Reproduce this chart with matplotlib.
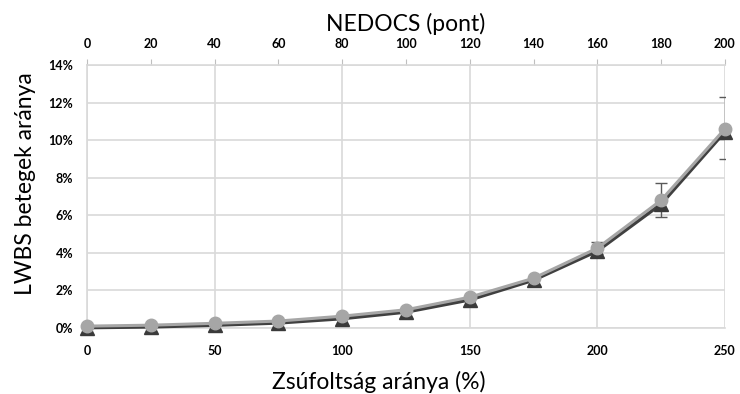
import matplotlib
matplotlib.use("Agg")
import matplotlib.pyplot as plt
from matplotlib.ticker import FuncFormatter, MultipleLocator

# Data
crowding = [0, 25, 50, 75, 100, 125, 150, 175, 200, 225, 250]
lwbs_circle = [0.10, 0.15, 0.25, 0.37, 0.63, 0.97, 1.64, 2.65, 4.25, 6.8, 10.6]
lwbs_triangle = [0.02, 0.06, 0.15, 0.27, 0.50, 0.85, 1.50, 2.55, 4.10, 6.6, 10.45]
err_low = [0, 0, 0, 0, 0, 0, 0, 0, 0.30, 0.9, 1.6]
err_high = [0, 0, 0, 0, 0, 0, 0, 0, 0.35, 0.9, 1.7]
nedocs_ticks = [0, 20, 40, 60, 80, 100, 120, 140, 160, 180, 200]

plt.rcParams['font.family'] = ['Lato', 'DejaVu Sans']

fig = plt.figure(figsize=(7.4, 3.94), dpi=100)
ax = fig.add_axes([0.1176, 0.1675, 0.862, 0.6675])

grid_col = '#d9d9d9'
ax.set_xlim(0, 250)
ax.set_ylim(0, 14)
ax.xaxis.set_major_locator(MultipleLocator(50))
ax.yaxis.set_major_locator(MultipleLocator(2))
ax.yaxis.set_major_formatter(FuncFormatter(lambda v, p: f"{v:.0f}%"))
ax.grid(True, color=grid_col, linewidth=1.2)
ax.set_axisbelow(True)
for s in ['top', 'right']:
    ax.spines[s].set_visible(False)
for s in ['left', 'bottom']:
    ax.spines[s].set_color(grid_col)
    ax.spines[s].set_linewidth(1.2)
ax.tick_params(length=0, labelsize=9)
ax.tick_params(axis='y', pad=10)
ax.tick_params(axis='x', pad=12)
for lbl in ax.get_xticklabels() + ax.get_yticklabels():
    lbl.set_fontweight('bold')

# error bars on the upper series
ax.errorbar(crowding, lwbs_circle, yerr=[err_low, err_high], fmt='none',
            ecolor='#595959', elinewidth=1, capsize=4, capthick=1, zorder=2)

ax.plot(crowding, lwbs_triangle, color='#404040', linewidth=2.5,
        marker='^', markersize=10, markerfacecolor='#3a3a3a',
        markeredgecolor='#3a3a3a', zorder=3, clip_on=False)
ax.plot(crowding, lwbs_circle, color='#a6a6a6', linewidth=2.2,
        marker='o', markersize=9, markerfacecolor='#a6a6a6',
        markeredgecolor='#a6a6a6', zorder=4, clip_on=False)

ax.set_xlabel('Zsúfoltság aránya (%)', fontsize=16.5)
ax.xaxis.set_label_coords(0.458, -0.165)
ax.set_ylabel('LWBS betegek aránya', fontsize=16.5)
ax.yaxis.set_label_coords(-0.08, 0.55)

# secondary top axis
top = ax.twiny()
top.set_xlim(0, 200)
top.set_xticks(nedocs_ticks)
top.spines['top'].set_color(grid_col)
top.spines['top'].set_linewidth(1.2)
for s in ['left', 'right', 'bottom']:
    top.spines[s].set_visible(False)
top.tick_params(axis='x', direction='out', length=4, color='#bfbfbf',
                labelsize=9, pad=7)
for lbl in top.get_xticklabels():
    lbl.set_fontweight('bold')
top.set_xlabel('NEDOCS (pont)', fontsize=16.5, labelpad=5)

fig.savefig('out.png', dpi=100)
